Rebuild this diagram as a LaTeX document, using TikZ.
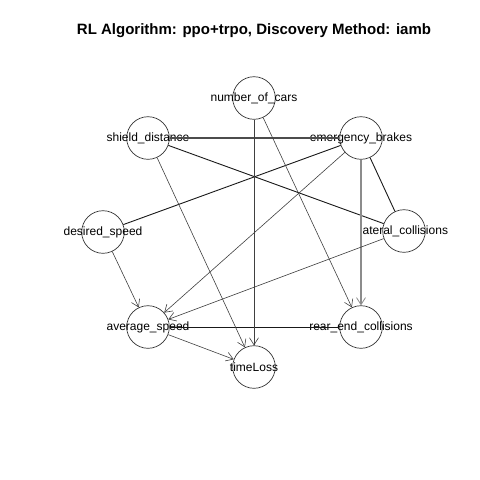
\documentclass[tikz,border=0pt]{standalone}
\usepackage{fontspec}
\setmainfont{Liberation Sans}
\usetikzlibrary{arrows.meta}
\begin{document}
\begin{tikzpicture}[x=1pt,y=-1pt,
  vnode/.style={draw=black!80,line width=0.7pt,circle,minimum size=42.6pt,inner sep=0pt},
  lbl/.style={font=\fontsize{12}{12}\selectfont,inner sep=0pt},
  dir/.style={draw=black!75,line width=0.6pt,-{Straight Barb[length=7pt,width=9pt]}},
  undir/.style={draw=black!90,line width=0.9pt},
  heavy/.style={draw=black!70,line width=1.4pt},
  graydir/.style={draw=black!45,line width=1.3pt,-{Straight Barb[length=7pt,width=9pt,line width=0.8pt]}}]
\useasboundingbox (0,0) rectangle (480,480);
\node[font=\bfseries\fontsize{15}{15}\selectfont,anchor=base] (title) at (254,34) {RL Algorithm: ppo+trpo, Discovery Method: iamb};
\node[vnode,label={[lbl]center:number\_of\_cars}] (nc) at (254,98) {};
\node[vnode,label={[lbl]center:shield\_distance}] (sd) at (148,138) {};
\node[vnode,label={[lbl]center:emergency\_brakes}] (eb) at (361,138) {};
\node[vnode,label={[lbl]center:desired\_speed}] (ds) at (103,232) {};
\node[vnode,label={[lbl]center:lateral\_collisions}] (lc) at (404,231) {};
\node[vnode,label={[lbl]center:average\_speed}] (as) at (148,327) {};
\node[vnode,label={[lbl]center:rear\_end\_collisions}] (rec) at (361,327) {};
\node[vnode,label={[lbl]center:timeLoss}] (tl) at (254,367) {};
% undirected
\draw[heavy] (sd) -- (eb);
\draw[undir] (sd) -- (lc);
\draw[undir] (eb) -- (ds);
\draw[undir] (eb) -- (lc);
\draw[undir] (as) -- (rec);
% directed
\draw[dir] (nc) -- (tl);
\draw[dir] (nc) -- (rec);
\draw[dir] (sd) -- (tl);
\draw[dir] (eb) -- (as);
\draw[graydir] (eb) -- (rec);
\draw[dir] (ds) -- (as);
\draw[dir] (lc) -- (as);
\draw[dir] (as) -- (tl);
\end{tikzpicture}
\end{document}
